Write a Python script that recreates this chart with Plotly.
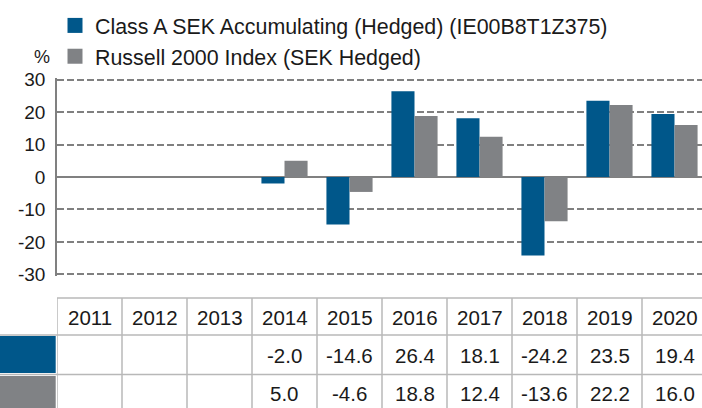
import plotly.graph_objects as go

# ---- data ----
years = ["2011", "2012", "2013", "2014", "2015", "2016", "2017", "2018", "2019", "2020"]
fund_values = [None, None, None, -2.0, -14.6, 26.4, 18.1, -24.2, 23.5, 19.4]
index_values = [None, None, None, 5.0, -4.6, 18.8, 12.4, -13.6, 22.2, 16.0]
fund_name = "Class A SEK Accumulating (Hedged) (IE00B8T1Z375)"
index_name = "Russell 2000 Index (SEK Hedged)"
y_ticks = [-30, -20, -10, 0, 10, 20, 30]

BLUE = "#00578A"
GRAY = "#808285"
GRID = "#808080"
TABLE_LINE = "#b8b8b8"
TEXT = "#1a1a1a"
FONT = "Liberation Sans, Arial, sans-serif"

W, H = 702, 408
ML, MR, MT, MB = 57, 0, 78, 132
plot_h = H - MT - MB


def py(p):
    """pixel row -> paper y"""
    return (H - MB - p) / plot_h


def px(p):
    """pixel column -> paper x"""
    return (p - ML) / (W - ML - MR)


fig = go.Figure()
fig.add_trace(go.Bar(x=years, y=fund_values, name=fund_name, marker_color=BLUE,
                     marker_line_width=0, showlegend=False))
fig.add_trace(go.Bar(x=years, y=index_values, name=index_name, marker_color=GRAY,
                     marker_line_width=0, showlegend=False))
# legend entries (square swatches)
for nm, col in [(fund_name, BLUE), (index_name, GRAY)]:
    fig.add_trace(go.Scatter(x=[None], y=[None], mode="markers", name=nm,
                             marker=dict(symbol="square", size=15, color=col),
                             showlegend=True))

shapes = []
annotations = []

# table lines
t_top, r1, r2, t_bot = py(298), py(335), py(374.5), py(420)
shapes.append(dict(type="line", xref="paper", yref="paper", x0=0, x1=1.05, y0=t_top, y1=t_top,
                   line=dict(color=TABLE_LINE, width=1.5)))
for yy in (r1, r2):
    shapes.append(dict(type="line", xref="paper", yref="paper", x0=px(0), x1=1.05, y0=yy, y1=yy,
                       line=dict(color=TABLE_LINE, width=1.5)))
for i in range(len(years) + 1):
    shapes.append(dict(type="line", xref="x", yref="paper", x0=i - 0.5, x1=i - 0.5,
                       y0=t_top, y1=t_bot, line=dict(color=TABLE_LINE, width=1.5)))
# row swatches
shapes.append(dict(type="rect", xref="paper", yref="paper", x0=px(-5), x1=px(55.7),
                   y0=py(373), y1=py(336), fillcolor=BLUE, line=dict(width=0)))
shapes.append(dict(type="rect", xref="paper", yref="paper", x0=px(-5), x1=px(55.7),
                   y0=py(420), y1=py(376), fillcolor=GRAY, line=dict(width=0)))

tfont = dict(family=FONT, size=20.5, color=TEXT)
for i, yr in enumerate(years):
    annotations.append(dict(x=i, y=py(317), xref="x", yref="paper", text=yr,
                            showarrow=False, font=tfont, xanchor="center", yanchor="middle"))
    if fund_values[i] is not None:
        annotations.append(dict(x=i, y=py(355), xref="x", yref="paper",
                                text=f"{fund_values[i]:.1f}", showarrow=False, font=tfont,
                                xanchor="center", yanchor="middle"))
    if index_values[i] is not None:
        annotations.append(dict(x=i, y=py(393), xref="x", yref="paper",
                                text=f"{index_values[i]:.1f}", showarrow=False, font=tfont,
                                xanchor="center", yanchor="middle"))

annotations.append(dict(x=px(42), y=py(57), xref="paper", yref="paper", text="%",
                        showarrow=False, font=dict(family=FONT, size=18, color=TEXT),
                        xanchor="center", yanchor="middle"))

fig.update_layout(
    width=W, height=H,
    margin=dict(l=ML, r=MR, t=MT, b=MB, pad=0),
    paper_bgcolor="white", plot_bgcolor="white",
    barmode="group", bargap=0.29, bargroupgap=0,
    font=dict(family=FONT, color=TEXT),
    legend=dict(x=px(55), xanchor="left", y=py(5), yanchor="top",
                font=dict(family=FONT, size=21.4, color=TEXT),
                bgcolor="rgba(0,0,0,0)", itemsizing="trace", tracegroupgap=0),
    shapes=shapes,
    annotations=annotations,
)
fig.update_xaxes(type="category", range=[-0.5, -0.5 + (W - ML - MR) / 65.0],
                 showticklabels=False, showgrid=False, zeroline=False, showline=False,
                 ticks="")
fig.update_yaxes(range=[-30.5, 30.5], tickvals=y_ticks, ticktext=[str(v) for v in y_ticks],
                 showgrid=True, gridcolor=GRID, griddash="7px,3px", gridwidth=1.5,
                 zeroline=True, zerolinecolor=GRID, zerolinewidth=1.5,
                 showline=True, linecolor=GRID, linewidth=1.5,
                 ticks="", ticklabelstandoff=6,
                 tickfont=dict(family=FONT, size=19, color=TEXT))

fig.write_html("out.html")
